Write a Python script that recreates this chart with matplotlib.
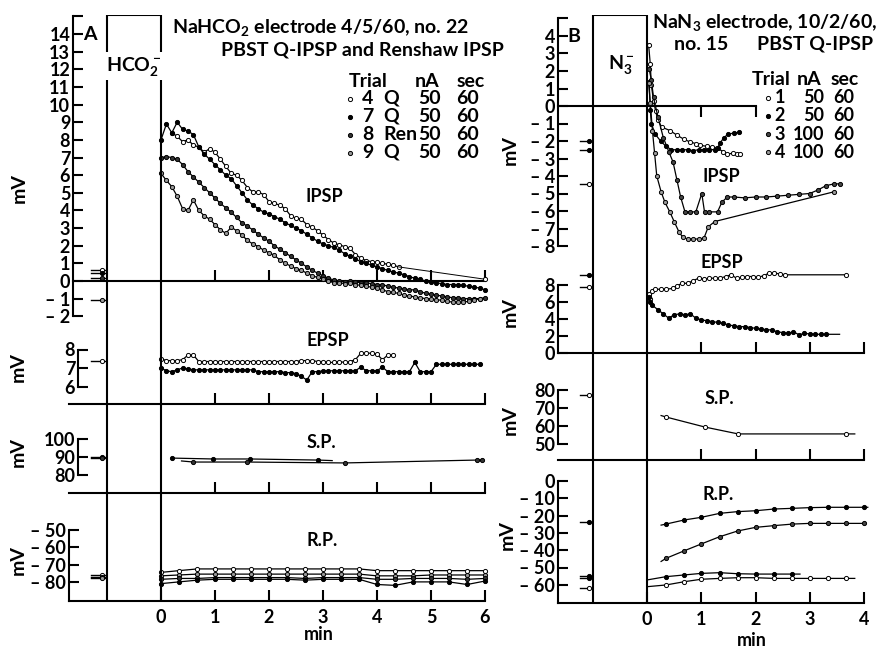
import numpy as np
import matplotlib
matplotlib.use('Agg')
from matplotlib import pyplot as plt

plt.rcParams['font.family'] = ['Lato', 'DejaVu Sans']
plt.rcParams['mathtext.fontset'] = 'custom'
plt.rcParams['mathtext.rm'] = 'Lato:bold'
plt.rcParams['mathtext.it'] = 'Lato:italic'
plt.rcParams['mathtext.bf'] = 'Lato:bold'

# ---------------- Panel A: NaHCO2 electrode ----------------
step_a = 0.1  # sampling interval of dense records (min)

# IPSP (mV)
ipsp_a_4_start = 0.2
ipsp_a_4 = [8.4, 8.2, 7.9, 8.0, 7.7, 7.6, 7.3, 7.5, 7.3, 6.9,
            6.5, 6.1, 6.0, 5.7, 5.3, 5.05, 5.05, 4.9, 4.5, 4.4,
            4.3, 4.1, 3.7, 3.55, 3.5, 3.2, 3.05, 2.85, 2.6, 2.35,
            2.15, 2.05, 1.95, 1.85, 1.5, 1.3, 1.15, 1.1, 1.05, 1.0,
            0.95, 0.9, 0.8]
ipsp_a_4_last = [6.0, 0.1]
ipsp_a_7 = [8.0, 8.9, 8.4, 9.0, 8.6, 8.5, 8.3, 7.6, 7.2, 6.9,
            6.6, 6.3, 6.0, 5.8, 5.4, 5.0, 4.6, 4.3, 4.1, 3.9,
            3.8, 3.65, 3.5, 3.3, 3.15, 3.0, 2.85, 2.65, 2.45, 2.25,
            2.1, 2.0, 1.9, 1.75, 1.55, 1.4, 1.25, 1.1, 1.0, 0.9,
            0.8, 0.7, 0.6, 0.5, 0.45, 0.35, 0.25, 0.15, 0.1, 0.0,
            -0.05, -0.1, -0.15, -0.2, -0.2, -0.2, -0.25, -0.3, -0.35, -0.4,
            -0.5]
ipsp_a_8 = [7.0, 7.05, 7.0, 6.9, 6.6, 6.2, 5.9, 5.6, 5.3, 5.0,
            4.7, 4.4, 4.15, 3.9, 3.6, 3.3, 3.1, 2.9, 2.65, 2.45,
            2.25, 2.0, 1.8, 1.6, 1.4, 1.2, 1.0, 0.8, 0.6, 0.45,
            0.3, 0.15, 0.06, 0.0, -0.05, 0.0, -0.05, -0.1, -0.1, -0.15,
            -0.2, -0.2, -0.3, -0.35, -0.4, -0.45, -0.5, -0.5, -0.6, -0.7,
            -0.75, -0.8, -0.85, -0.9, -0.95, -0.95, -1.0, -1.0, -1.0, -1.0,
            -0.95]
ipsp_a_9 = [6.1, 5.7, 5.35, 4.8, 4.1, 4.0, 4.6, 4.0, 3.7, 3.5,
            3.2, 2.9, 2.7, 3.05, 2.85, 2.6, 2.3, 2.1, 1.95, 1.75,
            1.6, 1.45, 1.2, 1.0, 0.85, 0.7, 0.6, 0.45, 0.3, 0.2,
            0.1, 0.0, -0.1, -0.1, -0.15, -0.1, -0.2, -0.25, -0.3, -0.35,
            -0.4, -0.5, -0.6, -0.65, -0.7, -0.8, -0.85, -0.9, -0.95, -1.0,
            -1.0, -1.05, -1.1, -1.15, -1.2, -1.2, -1.2, -1.15, -1.1, -1.0]
ipsp_a_ctrl = [0.62, 0.45, 0.17, -1.1]
ipsp_a_ctrl_trial = ['4', '7', '8', '9']

# EPSP (mV)
epsp_a_open = [7.5, 7.4, 7.4, 7.4, 7.45, 7.7, 7.7, 7.35, 7.35, 7.35,
               7.35, 7.35, 7.35, 7.35, 7.35, 7.35, 7.35, 7.35, 7.35, 7.35,
               7.35, 7.35, 7.35, 7.35, 7.35, 7.35, 7.4, 7.4, 7.4, 7.35,
               7.35, 7.3, 7.3, 7.35, 7.3, 7.35, 7.45, 7.8, 7.8, 7.8,
               7.75, 7.45, 7.7, 7.7]
epsp_a_fill = [7.0, 6.85, 6.8, 6.9, 7.0, 6.95, 6.9, 6.9, 6.9, 6.9,
               6.9, 6.9, 6.9, 6.9, 6.9, 6.9, 6.9, 6.9, 6.8, 6.8,
               6.8, 6.8, 6.8, 6.75, 6.75, 6.7, 6.55, 6.35, 6.8, 6.8,
               6.85, 6.85, 6.85, 6.85, 6.85, 6.85, 6.85, 7.05, 6.85, 6.85,
               6.85, 7.05, 6.8, 6.8, 6.8, 6.8, 6.8, 7.3, 6.8, 6.8,
               6.8, 7.2, 7.2, 7.2, 7.2, 7.2, 7.2, 7.2, 7.2, 7.2]
epsp_a_ctrl = [7.4]
epsp_a_ctrl_trial = ['4']

# S.P. (mV)
sp_a_1_t = [0.2, 0.97, 1.65, 2.9, 3.17]
sp_a_1 = [89.4, 88.9, 88.9, 88.3, 88.0]
sp_a_2_t = [0.38, 0.6, 1.6, 3.4, 5.85, 5.95]
sp_a_2 = [87.8, 87.2, 87.2, 86.7, 88.3, 88.3]
sp_a_ctrl = [90.0, 89.6]
sp_a_ctrl_trial = ['7', '8']

# R.P. (mV)
rp_a_t = [0.0, 0.33, 0.67, 1.0, 1.33, 1.67, 2.0, 2.33, 2.67, 3.0,
          3.33, 3.67, 4.0, 4.33, 4.67, 5.0, 5.33, 5.67, 6.0]
rp_a_4 = [-74.5, -73.5, -72.5, -72.5, -72.5, -72.5, -72.5, -72.5, -72.5, -72.5,
          -72.5, -72.5, -73.5, -73.5, -73.5, -73.5, -73.5, -73.5, -73.5]
rp_a_9 = [-76.5, -76.0, -75.5, -75.5, -75.5, -75.5, -75.5, -75.5, -75.5, -75.5,
          -75.5, -75.5, -76.5, -76.5, -76.5, -76.0, -76.0, -76.0, -76.0]
rp_a_8 = [-78.5, -78.0, -78.0, -77.5, -77.5, -77.5, -77.5, -77.5, -78.0, -77.5,
          -77.5, -77.5, -78.5, -78.5, -78.0, -78.0, -78.0, -78.5, -78.0]
rp_a_7 = [-81.0, -80.0, -79.0, -78.5, -78.5, -78.5, -78.5, -78.5, -79.0, -78.5,
          -78.5, -78.5, -81.5, -82.0, -80.0, -80.0, -80.0, -81.5, -79.5]
rp_a_ctrl = [-76.0, -77.0, -78.0]
rp_a_ctrl_trial = ['4', '7', '9']

legend_a_trial = ['4', '7', '8', '9']
legend_a_kind = ['Q', 'Q', 'Ren', 'Q']
legend_a_nA = [50, 50, 50, 50]
legend_a_sec = [60, 60, 60, 60]

# ---------------- Panel B: NaN3 electrode ----------------
ipsp_b_1_t = [0.03, 0.06, 0.08, 0.12, 0.16, 0.2, 0.27, 0.42, 0.55, 0.68,
              0.79, 0.9, 0.98, 1.1, 1.2, 1.29, 1.4, 1.48, 1.58, 1.65, 1.71]
ipsp_b_1 = [3.5, 2.4, 1.2, 0.3, -0.3, -0.8, -1.2, -1.4, -1.66, -1.9,
            -2.05, -2.15, -2.25, -2.3, -2.35, -2.4, -2.6, -2.75, -2.7, -2.75, -2.75]
ipsp_b_2_t = [0.04, 0.06, 0.08, 0.15, 0.25, 0.35, 0.45, 0.55, 0.65, 0.75,
              0.85, 0.95, 1.05, 1.15, 1.25, 1.3, 1.35, 1.42, 1.5, 1.6, 1.7]
ipsp_b_2 = [1.4, -0.2, -1.0, -1.6, -2.0, -2.3, -2.5, -2.5, -2.5, -2.5,
            -2.55, -2.5, -2.5, -2.5, -2.5, -2.4, -2.1, -1.8, -1.6, -1.55, -1.5]
ipsp_b_3_t = [0.04, 0.08, 0.12, 0.2, 0.3, 0.4, 0.48, 0.55, 0.62, 0.7,
              0.8, 0.9, 1.01, 1.06, 1.15, 1.3, 1.38, 1.48, 1.6, 1.8,
              2.0, 2.2, 2.4, 2.6, 2.8, 3.0, 3.15, 3.3, 3.45, 3.55]
ipsp_b_3 = [2.1, 1.5, 0.5, -0.6, -1.8, -2.6, -3.2, -4.2, -5.2, -6.05,
            -6.05, -6.05, -5.0, -6.05, -6.05, -6.05, -5.5, -5.2, -5.2, -5.25,
            -5.2, -5.2, -5.15, -5.1, -5.05, -5.0, -4.8, -4.55, -4.45, -4.45]
ipsp_b_4_t = [0.03, 0.06, 0.1, 0.14, 0.18, 0.26, 0.33, 0.42, 0.5, 0.59,
              0.66, 0.75, 0.85, 0.95, 1.05, 1.13, 1.25, 3.45]
ipsp_b_4 = [1.3, 0.2, -1.4, -2.7, -4.0, -4.9, -5.5, -6.05, -6.6, -7.2,
            -7.5, -7.6, -7.6, -7.6, -7.55, -6.9, -6.6, -4.9]
ipsp_b_ctrl = [-2.0, -2.5, -4.46]
ipsp_b_ctrl_trial = ['2', '2', '1']

epsp_b_1_t = [0.03, 0.06, 0.1, 0.15, 0.25, 0.35, 0.48, 0.55, 0.65, 0.75,
              0.85, 0.95, 1.05, 1.15, 1.25, 1.35, 1.45, 1.55, 1.65, 1.75,
              1.85, 1.95, 2.05, 2.15, 2.25, 2.35, 2.45, 2.55, 3.67]
epsp_b_1 = [7.0, 6.4, 7.3, 7.5, 7.5, 7.5, 7.6, 7.9, 8.2, 8.2,
            8.5, 8.8, 8.7, 8.8, 8.8, 8.8, 9.0, 9.2, 8.8, 8.9,
            9.0, 9.0, 8.9, 9.1, 9.4, 9.4, 9.3, 9.2, 9.2]
epsp_b_2_t = [0.03, 0.06, 0.1, 0.2, 0.3, 0.4, 0.5, 0.6, 0.7, 0.8,
              0.9, 1.0, 1.1, 1.2, 1.3, 1.4, 1.5, 1.6, 1.7, 1.8,
              1.9, 2.0, 2.1, 2.2, 2.3, 2.4, 2.5, 2.6, 2.7, 2.8,
              2.9, 3.0, 3.1, 3.2, 3.3, 3.55]
epsp_b_2 = [6.6, 6.0, 5.6, 5.1, 4.6, 4.1, 4.5, 4.6, 4.5, 4.6,
            4.1, 3.9, 3.8, 3.7, 3.6, 3.5, 3.3, 3.2, 3.1, 3.1,
            3.0, 2.9, 2.8, 2.75, 2.7, 2.5, 2.4, 2.3, 2.5, 2.15,
            2.3, 2.25, 2.2, 2.2, 2.2, 2.2]
epsp_b_ctrl = [9.2, 7.8]
epsp_b_ctrl_trial = ['2', '1']

sp_b_t = [0.26, 0.35, 1.07, 1.68, 3.67, 3.83]
sp_b = [65.8, 65.0, 59.4, 55.6, 55.6, 55.6]
sp_b_ctrl = [77.2]
sp_b_ctrl_trial = ['1']

rp_b_2_t = [0.26, 0.35, 0.69, 1.0, 1.34, 1.67, 2.0, 2.34, 2.68, 3.0, 3.33, 3.67, 4.0, 4.07]
rp_b_2 = [-25.5, -24.9, -22.5, -21.0, -18.7, -17.7, -17.2, -16.2, -15.8, -15.4,
          -15.2, -15.2, -15.2, -15.2]
rp_b_3_t = [0.26, 0.35, 0.69, 1.0, 1.34, 1.67, 2.0, 2.34, 2.68, 3.0, 3.33, 3.67, 4.0]
rp_b_3 = [-46.5, -44.7, -40.3, -36.4, -32.2, -28.9, -26.8, -25.8, -24.9, -24.5,
          -24.5, -24.5, -24.5]
rp_b_4_t = [0.0, 0.35, 0.69, 1.0, 1.34, 1.67, 2.0, 2.34, 2.68, 2.82]
rp_b_4 = [-57.2, -55.3, -54.3, -53.4, -53.0, -53.6, -53.8, -53.8, -53.8, -53.8]
rp_b_1_t = [0.0, 0.35, 0.69, 1.0, 1.34, 1.67, 2.0, 2.34, 2.68, 3.0, 3.33, 3.67, 3.83]
rp_b_1 = [-61.1, -60.1, -58.2, -56.8, -56.3, -55.9, -55.9, -56.3, -56.3, -56.3,
          -56.3, -56.3, -56.3]
rp_b_ctrl = [-23.7, -55.0, -56.0, -61.8]
rp_b_ctrl_trial = ['2', '2', '2', '1']

legend_b_trial = ['1', '2', '3', '4']
legend_b_nA = [50, 50, 100, 100]
legend_b_sec = [60, 60, 60, 60]

inj_start, inj_end = -1.0, 0.0   # iontophoretic injection period (min)

# ---------------- styles ----------------
W, H = 880, 647
MS = 3.0
sty_a = {'4': dict(marker='o', mfc='white', mec='k'),
         '7': dict(marker='o', mfc='k', mec='k'),
         '8': dict(marker='o', mfc='#333333', mec='k'),
         '9': dict(marker='o', mfc='#999999', mec='k')}
sty_b = {'1': dict(marker='o', mfc='white', mec='k'),
         '2': dict(marker='o', mfc='k', mec='k'),
         '3': dict(marker='o', mfc='#444444', mec='k'),
         '4': dict(marker='o', mfc='#999999', mec='k')}
LW_AX = 1.5
TICK_FS = 13

fig = plt.figure(figsize=(8.8, 6.47), dpi=100)


def panel_axes(left, right, top, bottom, t0, ppm, yref_px, yref_val, ppu):
    ax = fig.add_axes([left / W, 1 - bottom / H, (right - left) / W, (bottom - top) / H])
    ax.set_xlim((left - t0) / ppm, (right - t0) / ppm)
    ax.set_ylim(yref_val - (bottom - yref_px) / ppu, yref_val + (yref_px - top) / ppu)
    ax.patch.set_visible(False)
    ax.spines['top'].set_visible(False)
    ax.spines['right'].set_visible(False)
    for s in ['left', 'bottom']:
        ax.spines[s].set_linewidth(LW_AX)
    return ax


def setup(ax, spine_t, ylo, yhi, yticks, ylabels, base, xhi, xticks, xdir='in'):
    ax.spines['left'].set_position(('data', spine_t))
    ax.spines['left'].set_bounds(ylo, yhi)
    ax.spines['bottom'].set_position(('data', base))
    ax.spines['bottom'].set_bounds(ax.get_xlim()[0], xhi)
    ax.set_yticks(yticks)
    ax.set_yticklabels(ylabels, fontsize=TICK_FS, fontweight='bold')
    ax.tick_params(axis='y', direction='in', length=7, width=LW_AX, pad=2)
    ax.set_xticks(xticks)
    ax.set_xticklabels([])
    ax.tick_params(axis='x', direction=xdir, length=8, width=LW_AX)


def trace(ax, t, v, sty, mark=None, lw=0.9):
    ax.plot(t, v, color='k', lw=lw, ms=MS, mew=0.7, markevery=mark, clip_on=False, zorder=3, **sty)


def controls(ax, vals, trials, styles, span, tm):
    for v, tr in zip(vals, trials):
        ax.plot(span, [v, v], color='k', lw=1.0, clip_on=False)
        ax.plot([tm], [v], color='k', ms=MS, mew=0.7, clip_on=False, **styles[tr])


def mlabel(s):
    return ['– %d' % abs(v) if v < 0 else '%d' % v for v in s]


# ---------------- Panel A axes ----------------
t0a, ppma = 161, 54.0
xa = lambda px: (px - t0a) / ppma
span_a, tm_a = [-1.3, -1.03], -1.1

ax = panel_axes(73, 500, 10, 325, t0a, ppma, 281, 0.0, 17.64)
yt = list(range(-2, 16))
setup(ax, xa(73), -2, 15, yt, mlabel(yt[:-1]) + [''], 0.0, 6.0, [1, 2, 3, 4, 5, 6])
trace(ax, ipsp_a_4_start + step_a * np.arange(len(ipsp_a_4)), ipsp_a_4, sty_a['4'])
trace(ax, [ipsp_a_4_start + step_a * (len(ipsp_a_4) - 1), ipsp_a_4_last[0]],
      [ipsp_a_4[-1], ipsp_a_4_last[1]], sty_a['4'], mark=[1], lw=0.7)
trace(ax, step_a * np.arange(len(ipsp_a_7)), ipsp_a_7, sty_a['7'])
trace(ax, step_a * np.arange(len(ipsp_a_8)), ipsp_a_8, sty_a['8'])
trace(ax, step_a * np.arange(len(ipsp_a_9)), ipsp_a_9, sty_a['9'])
controls(ax, ipsp_a_ctrl, ipsp_a_ctrl_trial, sty_a, span_a, tm_a)

ax = panel_axes(69, 500, 330, 410, t0a, ppma, 368, 7.0, 18.5)
setup(ax, xa(78), 6, 8, [6, 7, 8], ['6', '7', '8'], 7.0 - (404 - 368) / 18.5, 6.0,
      [1, 2, 3, 4, 5, 6])
trace(ax, step_a * np.arange(len(epsp_a_fill)), epsp_a_fill, sty_a['7'])
trace(ax, step_a * np.arange(len(epsp_a_open)), epsp_a_open, sty_a['4'])
controls(ax, epsp_a_ctrl, epsp_a_ctrl_trial, sty_a, span_a, tm_a)

ax = panel_axes(69, 500, 425, 500, t0a, ppma, 457, 90.0, 1.8)
setup(ax, xa(78), 80, 100, [80, 90, 100], ['80', '90', '100'], 90.0 - (493 - 457) / 1.8, 6.0,
      [1, 2, 3, 4, 5, 6])
trace(ax, sp_a_1_t, sp_a_1, sty_a['7'], mark=[0, 1, 2, 3])
trace(ax, sp_a_2_t, sp_a_2, sty_a['8'], mark=[1, 2, 3, 4, 5])
controls(ax, sp_a_ctrl, sp_a_ctrl_trial, sty_a, span_a, tm_a)

ax = panel_axes(69, 500, 515, 603, t0a, ppma, 530, -50.0, 1.73)
rp_base_a = -50.0 - (601 - 530) / 1.73
yt = [-80, -70, -60, -50]
setup(ax, xa(69), rp_base_a, -50, yt, mlabel(yt), rp_base_a, 6.0, [0, 1, 2, 3, 4, 5, 6])
ax.set_xticklabels(['0', '1', '2', '3', '4', '5', '6'], fontsize=TICK_FS, fontweight='bold')
ax.tick_params(axis='x', pad=6)
trace(ax, rp_a_t, rp_a_4, sty_a['4'])
trace(ax, rp_a_t, rp_a_9, sty_a['9'])
trace(ax, rp_a_t, rp_a_8, sty_a['8'])
trace(ax, rp_a_t, rp_a_7, sty_a['7'])
controls(ax, rp_a_ctrl, rp_a_ctrl_trial, sty_a, span_a, tm_a)

ov = panel_axes(73, 500, 15, 601, t0a, ppma, 601, 0.0, 586.0)
ov.axis('off')
ov.axvline(inj_start, 0, 1, color='k', lw=LW_AX)
ov.axvline(inj_end, 0, 1, color='k', lw=LW_AX)
ov.hlines(1.0, inj_start, inj_end, color='k', lw=LW_AX)

# ---------------- Panel B axes ----------------
t0b, ppmb = 647, 54.25
xb = lambda px: (px - t0b) / ppmb
span_b, tm_b = [-1.24, -1.01], -1.07

ax = panel_axes(558, 880, 10, 252, t0b, ppmb, 106, 0.0, 17.5)
yt = list(range(-8, 6))
setup(ax, xb(558), -8, 5, yt, mlabel(yt[:-1]) + [''], 0.0, 2.0, [1, 2], xdir='out')
trace(ax, ipsp_b_1_t, ipsp_b_1, sty_b['1'])
trace(ax, ipsp_b_2_t, ipsp_b_2, sty_b['2'])
trace(ax, ipsp_b_3_t, ipsp_b_3, sty_b['3'])
trace(ax, ipsp_b_4_t, ipsp_b_4, sty_b['4'])
controls(ax, ipsp_b_ctrl, ipsp_b_ctrl_trial, sty_b, span_b, tm_b)

ax = panel_axes(558, 880, 265, 358, t0b, ppmb, 353, 0.0, 8.5)
setup(ax, xb(558), 0, 8, [0, 2, 4, 6, 8], ['0', '2', '4', '6', '8'], 0.0, 4.0, [1, 2, 3, 4])
trace(ax, epsp_b_1_t, epsp_b_1, sty_b['1'], mark=list(range(len(epsp_b_1_t))))
trace(ax, epsp_b_2_t, epsp_b_2, sty_b['2'], mark=list(range(len(epsp_b_2_t) - 1)))
controls(ax, epsp_b_ctrl, epsp_b_ctrl_trial, sty_b, span_b, tm_b)

ax = panel_axes(558, 880, 380, 465, t0b, ppmb, 390, 80.0, 1.8)
setup(ax, xb(558), 50, 80, [50, 60, 70, 80], ['50', '60', '70', '80'],
      80.0 - (460 - 390) / 1.8, 4.0, [1, 2, 3, 4])
trace(ax, sp_b_t, sp_b, sty_b['1'], mark=[1, 2, 3, 4])
controls(ax, sp_b_ctrl, sp_b_ctrl_trial, sty_b, span_b, tm_b)

ax = panel_axes(558, 880, 475, 606, t0b, ppmb, 481, 0.0, 1.73)
rp_base_b = -(603 - 481) / 1.73
yt = [-60, -50, -40, -30, -20, -10, 0]
setup(ax, xb(558), rp_base_b, 0, yt, mlabel(yt), rp_base_b, 4.0, [0, 1, 2, 3, 4])
ax.set_xticklabels(['0', '1', '2', '3', '4'], fontsize=TICK_FS, fontweight='bold')
ax.tick_params(axis='x', pad=6)
trace(ax, rp_b_2_t, rp_b_2, sty_b['2'], mark=list(range(1, len(rp_b_2_t) - 1)))
trace(ax, rp_b_3_t, rp_b_3, sty_b['3'], mark=list(range(1, len(rp_b_3_t))))
trace(ax, rp_b_4_t, rp_b_4, sty_b['2'], mark=list(range(1, len(rp_b_4_t) - 1)))
trace(ax, rp_b_1_t, rp_b_1, sty_b['1'], mark=list(range(1, len(rp_b_1_t) - 1)))
controls(ax, rp_b_ctrl, rp_b_ctrl_trial, sty_b, span_b, tm_b)

ov = panel_axes(558, 880, 15, 603, t0b, ppmb, 603, 0.0, 588.0)
ov.axis('off')
ov.axvline(inj_start, 0, 1, color='k', lw=LW_AX)
ov.axvline(inj_end, 0, 1, color='k', lw=LW_AX)
ov.hlines(1.0, inj_start, inj_end, color='k', lw=LW_AX)

# ---------------- text layer (pixel coordinates) ----------------
lay = fig.add_axes([0, 0, 1, 1])
lay.set_xlim(0, W)
lay.set_ylim(H, 0)
lay.axis('off')

TXT = dict(fontsize=13, fontweight='bold', color='k')
TTL = dict(fontsize=14, fontweight='bold', color='k')

lay.text(172, 33, r'NaHCO$_2$ electrode 4/5/60, no. 22', ha='left', va='baseline', **TTL)
lay.text(504, 56, 'PBST Q-IPSP and Renshaw IPSP', ha='right', va='baseline', **TTL)
lay.text(652, 28, r'NaN$_3$ electrode, 10/2/60,', ha='left', va='baseline', **TTL)
lay.text(674, 50, 'no. 15', ha='left', va='baseline', **TTL)
lay.text(873, 50, 'PBST Q-IPSP', ha='right', va='baseline', **TTL)

lay.text(83, 34, 'A', ha='left', va='center', fontsize=14, fontweight='bold')
lay.text(567, 36, 'B', ha='left', va='center', fontsize=14, fontweight='bold')

lay.text(134, 66, r'HCO$_2^-$', ha='center', va='center', **TTL,
         bbox=dict(facecolor='white', edgecolor='none', pad=1.5))
lay.text(621, 64, r'N$_3^-$', ha='center', va='center', **TTL)

for x, y, s in [(324, 197, 'IPSP'), (328, 341, 'EPSP'), (321, 443, 'S.P.'), (322, 541, 'R.P.'),
                (721, 177, 'IPSP'), (722, 262, 'EPSP'), (719, 398, 'S.P.'), (718, 495, 'R.P.')]:
    lay.text(x, y, s, ha='center', va='center', **TXT)

for x, y in [(19, 188), (18, 367), (18, 452), (18, 560), (510, 150), (510, 312), (510, 420), (507, 535)]:
    lay.text(x, y, 'mV', ha='center', va='center', rotation=90, **TTL)

lay.text(319, 635, 'min', ha='center', va='center', **TXT)
lay.text(752, 640, 'min', ha='center', va='center', **TXT)

# legend A
lay.text(349, 87, 'Trial', ha='left', va='baseline', **TTL)
lay.text(415, 87, 'nA', ha='left', va='baseline', **TTL)
lay.text(457, 87, 'sec', ha='left', va='baseline', **TTL)
for i, (tr, kind, na, sec) in enumerate(zip(legend_a_trial, legend_a_kind, legend_a_nA, legend_a_sec)):
    yb = 104 + 18 * i
    lay.plot([350], [yb - 5.5], color='k', ms=3.0, mew=0.7, **sty_a[tr])
    lay.text(362, yb, tr, ha='left', va='baseline', **TTL)
    lay.text(383, yb, kind, ha='left', va='baseline', **TTL)
    lay.text(441, yb, str(na), ha='right', va='baseline', **TTL)
    lay.text(479, yb, str(sec), ha='right', va='baseline', **TTL)

# legend B
lay.text(752, 85, 'Trial', ha='left', va='baseline', **TTL)
lay.text(797, 85, 'nA', ha='left', va='baseline', **TTL)
lay.text(831, 85, 'sec', ha='left', va='baseline', **TTL)
for i, (tr, na, sec) in enumerate(zip(legend_b_trial, legend_b_nA, legend_b_sec)):
    yb = 103 + 18.3 * i
    lay.plot([768], [yb - 5.5], color='k', ms=3.0, mew=0.7, **sty_b[tr])
    lay.text(780, yb, tr, ha='center', va='baseline', **TXT)
    lay.text(824, yb, str(na), ha='right', va='baseline', **TXT)
    lay.text(854, yb, str(sec), ha='right', va='baseline', **TXT)

fig.savefig('out.png', dpi=100)
